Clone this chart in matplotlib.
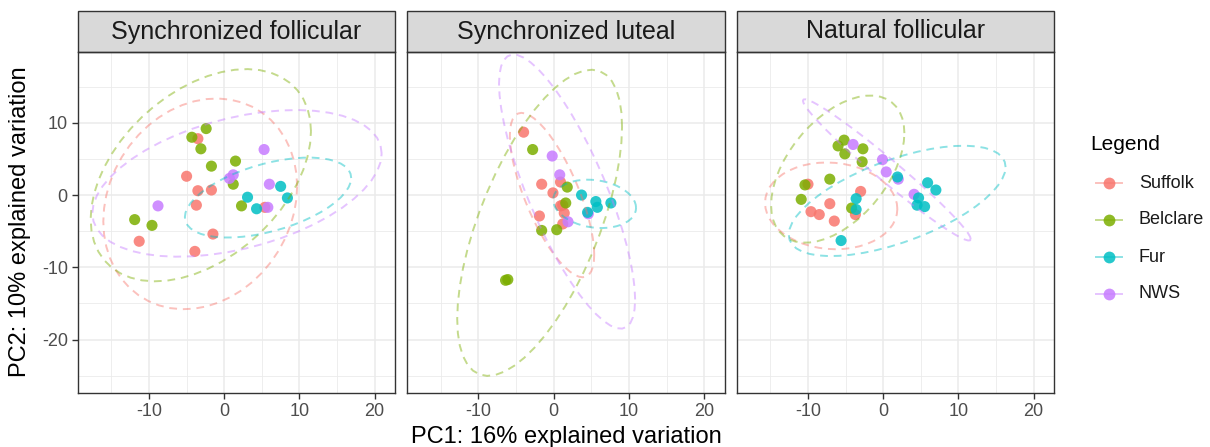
import numpy as np
import matplotlib
matplotlib.use("Agg")
import matplotlib.pyplot as plt
from matplotlib.patches import Rectangle
from matplotlib.lines import Line2D

plt.rcParams['font.family'] = ['Liberation Sans', 'DejaVu Sans']
plt.rcParams['axes.unicode_minus'] = False

# PCA SCORES PER FACET
breeds = ['Suffolk', 'Belclare', 'Fur', 'NWS']
colors = ['#F8766D', '#7CAE00', '#00BFC4', '#C77CFF']
facets = ['Synchronized follicular', 'Synchronized luteal', 'Natural follicular']
draw_order = [0, 1, 3, 2]

# Synchronized follicular
sf_pc1 = [-3.5, -5.0, -3.5, -1.7, -3.7, -1.5, -3.9, -11.3, 5.4,
          -4.3, -2.4, -3.1, -1.7, 1.5, 1.2, 2.3, -11.9, -9.6,
          3.1, 4.3, 7.5, 8.4,
          5.3, 0.7, 1.2, 6.0, 5.8, -8.8]
sf_pc2 = [7.8, 2.6, 0.6, 0.7, -1.4, -5.4, -7.8, -6.4, -1.7,
          8.0, 9.2, 6.4, 4.0, 4.7, 1.5, -1.5, -3.4, -4.2,
          -0.3, -1.9, 1.2, -0.4,
          6.3, 2.3, 2.8, 1.5, -1.7, -1.5]
sf_breed = [0] * 9 + [1] * 9 + [2] * 4 + [3] * 6

# Synchronized luteal
sl_pc1 = [-4.0, -1.6, -0.1, 0.9, 1.2, 1.4, -1.9, 1.2, 0.9,
          -2.8, 1.8, 1.6, -1.6, 0.4, -6.4, -6.1,
          3.7, 5.6, 5.8, 4.5, 7.6,
          -0.2, 0.8, 1.9, 4.6]
sl_pc2 = [8.7, 1.5, 0.3, 1.8, -1.4, -2.5, -2.9, -4.0, -1.5,
          6.3, 1.1, -1.1, -4.9, -4.8, -11.8, -11.7,
          0.0, -0.9, -1.7, -2.4, -1.1,
          5.4, 2.8, -3.7, -2.6]
sl_breed = [0] * 9 + [1] * 7 + [2] * 5 + [3] * 4

# Natural follicular
nf_pc1 = [-10.0, -9.6, -8.5, -7.1, -6.5, -3.0, -3.7,
          -10.4, -10.9, -7.1, -5.2, -6.0, -5.1, -2.7, -2.8, -4.2,
          -3.6, -3.6, -5.6, 1.9, 5.9, 7.0, 4.7, 4.5, 5.5,
          -4.0, -0.1, 0.4, 2.0, 4.1]
nf_pc2 = [1.5, -2.3, -2.7, -1.2, -3.6, 0.5, -2.7,
          1.4, -0.6, 2.2, 7.6, 6.8, 5.7, 6.4, 4.6, -1.8,
          -0.5, -2.0, -6.3, 2.5, 1.7, 0.7, -0.4, -1.4, -1.6,
          7.0, 4.9, 3.2, 2.2, 0.1]
nf_breed = [0] * 7 + [1] * 9 + [2] * 9 + [3] * 5

panels = [(sf_pc1, sf_pc2, sf_breed), (sl_pc1, sl_pc2, sl_breed), (nf_pc1, nf_pc2, nf_breed)]


def stat_ellipse(px, py, level=0.95, segments=51):
    # like ggplot2 stat_ellipse(type = "norm")
    x = np.column_stack([px, py])
    n = len(x)
    center = x.mean(axis=0)
    shape = np.cov(x, rowvar=False)
    dfd = n - 1
    qf = dfd / 2 * ((1 - level) ** (-2 / dfd) - 1)  # F(2, dfd) quantile
    radius = np.sqrt(2 * qf)
    ang = np.linspace(0, 2 * np.pi, segments)
    circle = np.column_stack([np.cos(ang), np.sin(ang)])
    chol = np.linalg.cholesky(shape).T
    return center + radius * circle @ chol


fig = plt.figure(figsize=(12.1, 4.47), dpi=100)
W, H = 1210, 447
left, right, top, bottom = 77.5, 1054, 52, 393
gap = 12
pw = (right - left - 2 * gap) / 3
border = '#333333'

for i, (pc1, pc2, br) in enumerate(panels):
    x0 = left + i * (pw + gap)
    ax = fig.add_axes([x0 / W, 1 - bottom / H, pw / W, (bottom - top) / H])
    pc1, pc2, br = np.array(pc1), np.array(pc2), np.array(br)
    for k in draw_order:
        m = br == k
        ax.scatter(pc1[m], pc2[m], s=64, color=colors[k], alpha=0.85,
                   edgecolors='none', zorder=3)
    for k in range(4):
        m = br == k
        e = stat_ellipse(pc1[m], pc2[m])
        ax.plot(e[:, 0], e[:, 1], color=colors[k], alpha=0.45, lw=1.4,
                linestyle=(0, (4, 3)), zorder=4)
    ax.set_xlim(-19.5, 22.7)
    ax.set_ylim(-27.4, 19.8)
    ax.set_xticks([-10, 0, 10, 20])
    ax.set_yticks([-20, -10, 0, 10])
    ax.set_xticks([-15, -5, 5, 15], minor=True)
    ax.set_yticks([-25, -15, -5, 5, 15], minor=True)
    ax.grid(True, which='major', color='#EBEBEB', lw=1.1, zorder=0)
    ax.grid(True, which='minor', color='#EBEBEB', lw=0.6, zorder=0)
    ax.set_axisbelow(True)
    ax.tick_params(which='minor', length=0)
    ax.tick_params(which='major', length=4, width=1, color=border,
                   labelsize=13, labelcolor='#4D4D4D', pad=3)
    if i > 0:
        ax.tick_params(axis='y', labelleft=False, length=0)
    for s in ax.spines.values():
        s.set_color(border)
        s.set_linewidth(1.0)
    sh = 41 / (bottom - top)
    ax.add_patch(Rectangle((0, 1), 1, sh, transform=ax.transAxes, clip_on=False,
                           facecolor='#D9D9D9', edgecolor=border, lw=1.0))
    ax.text(0.5, 1 + sh / 2, facets[i], transform=ax.transAxes, ha='center',
            va='center', fontsize=18, color='#1A1A1A')

fig.text(566 / W, 1 - 437 / H, 'PC1: 16% explained variation', ha='center',
         va='center', fontsize=17)
fig.text(20 / W, 1 - 222 / H, 'PC2: 10% explained variation', ha='center',
         va='center', rotation=90, fontsize=17)

# legend
fig.text(1090 / W, 1 - 145 / H, 'Legend', ha='left', va='center', fontsize=15)
ys = [183, 220, 257, 294]
for k, name in enumerate(breeds):
    yy = 1 - ys[k] / H
    fig.add_artist(Line2D([1096 / W, 1122 / W], [yy, yy], color=colors[k],
                          alpha=0.45, lw=1.4))
    fig.add_artist(Line2D([1109 / W], [yy], marker='o', markersize=8.5,
                          color=colors[k], alpha=0.85, markeredgewidth=0))
    fig.text(1139 / W, yy, name, ha='left', va='center', fontsize=13,
             color='#1A1A1A')

fig.savefig('out.png', dpi=100)
